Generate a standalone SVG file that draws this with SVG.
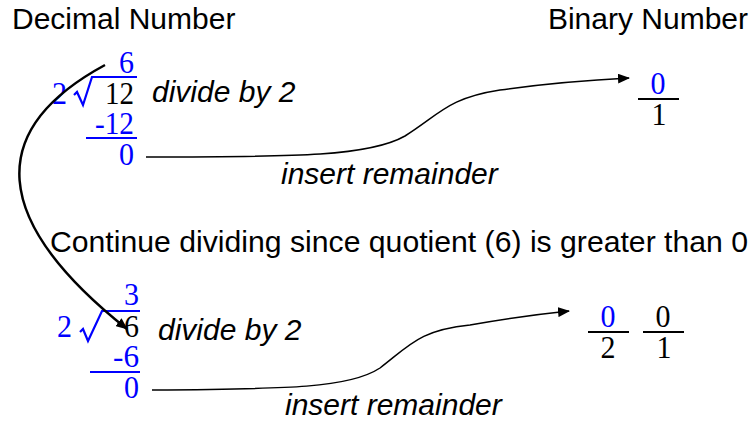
<svg xmlns="http://www.w3.org/2000/svg" width="753" height="422" viewBox="0 0 753 422">
<style>
.t{font-family:"Liberation Sans",Arial,sans-serif;font-size:30px;fill:#000}
.i{font-style:italic}
.m{font-family:"Liberation Serif","Times New Roman",serif;font-size:32px}
.b{fill:#0000ff}
.k{fill:#000}
.bl{stroke:#0000ff;stroke-width:2.2;fill:none}
.kl{stroke:#000;stroke-width:2.2;fill:none}
.c{stroke:#000;fill:none}
</style>
<defs>
<marker id="ah" viewBox="0 0 12 10" refX="11" refY="5" markerWidth="12" markerHeight="10" markerUnits="userSpaceOnUse" orient="auto">
<path d="M0,0 L12,5 L0,10 z" fill="#000"/>
</marker>
</defs>
<g id="headers">
<text class="t" x="12" y="29">Decimal Number</text>
<text class="t" x="748" y="29" text-anchor="end">Binary Number</text>
<text class="t" x="50" y="252" textLength="698" lengthAdjust="spacingAndGlyphs">Continue dividing since quotient (6) is greater than 0</text>
</g>
<g id="division1">
<text class="m b" x="134" y="73" text-anchor="end" textLength="15" lengthAdjust="spacingAndGlyphs">6</text>
<text class="m b" x="52" y="104" textLength="15" lengthAdjust="spacingAndGlyphs">2</text>
<path class="bl" d="M74,95 L77,92 L83,105 L92,77 L137,77"/>
<text class="m k" x="134" y="104" text-anchor="end" textLength="29" lengthAdjust="spacingAndGlyphs">12</text>
<text class="m b" x="134" y="134" text-anchor="end" textLength="39" lengthAdjust="spacingAndGlyphs">-12</text>
<line class="bl" x1="86" y1="138" x2="137" y2="138"/>
<text class="m b" x="134" y="165" text-anchor="end" textLength="15" lengthAdjust="spacingAndGlyphs">0</text>
<text class="t i" x="152" y="102">divide by 2</text>
<text class="t i" x="281" y="184">insert remainder</text>
</g>
<g id="division2">
<text class="m b" x="139" y="305" text-anchor="end" textLength="15" lengthAdjust="spacingAndGlyphs">3</text>
<text class="m b" x="57" y="337" textLength="15" lengthAdjust="spacingAndGlyphs">2</text>
<path class="bl" d="M80,332 L83,329 L88,341 L102,311 L140,311"/>
<text class="m k" x="139" y="337" text-anchor="end" textLength="15" lengthAdjust="spacingAndGlyphs">6</text>
<text class="m b" x="139" y="367" text-anchor="end" textLength="26" lengthAdjust="spacingAndGlyphs">-6</text>
<line class="bl" x1="90" y1="372" x2="140" y2="372"/>
<text class="m b" x="139" y="398" text-anchor="end" textLength="15" lengthAdjust="spacingAndGlyphs">0</text>
<text class="t i" x="158" y="340">divide by 2</text>
<text class="t i" x="285" y="415">insert remainder</text>
</g>
<g id="binary1">
<text class="m b" x="658" y="94" text-anchor="middle" textLength="15" lengthAdjust="spacingAndGlyphs">0</text>
<line class="kl" x1="638" y1="99" x2="679" y2="99"/>
<text class="m k" x="659" y="125" text-anchor="middle" textLength="15" lengthAdjust="spacingAndGlyphs">1</text>
</g>
<g id="binary2">
<text class="m b" x="608" y="327" text-anchor="middle" textLength="15" lengthAdjust="spacingAndGlyphs">0</text>
<line class="kl" x1="588" y1="332" x2="629" y2="332"/>
<text class="m k" x="608" y="358" text-anchor="middle" textLength="15" lengthAdjust="spacingAndGlyphs">2</text>
<text class="m k" x="663" y="327" text-anchor="middle" textLength="15" lengthAdjust="spacingAndGlyphs">0</text>
<line class="kl" x1="643" y1="332" x2="684" y2="332"/>
<text class="m k" x="664" y="358" text-anchor="middle" textLength="15" lengthAdjust="spacingAndGlyphs">1</text>
</g>
<g id="connectors">
<path class="c" stroke-width="1.5" marker-end="url(#ah)" d="M146,157 C300,157 370,156 405,136 C440,114 448,98 500,90 C550,83 590,80 629,78"/>
<path class="c" stroke-width="1.5" marker-end="url(#ah)" d="M152,390 C290,389 350,388 380,368 C410,345 420,330 470,325 C510,318 540,314 569,311"/>
<path class="c" stroke-width="2.5" marker-end="url(#ah)" d="M105,65 C-15,130 -10,220 127,329"/>
</g>
</svg>
